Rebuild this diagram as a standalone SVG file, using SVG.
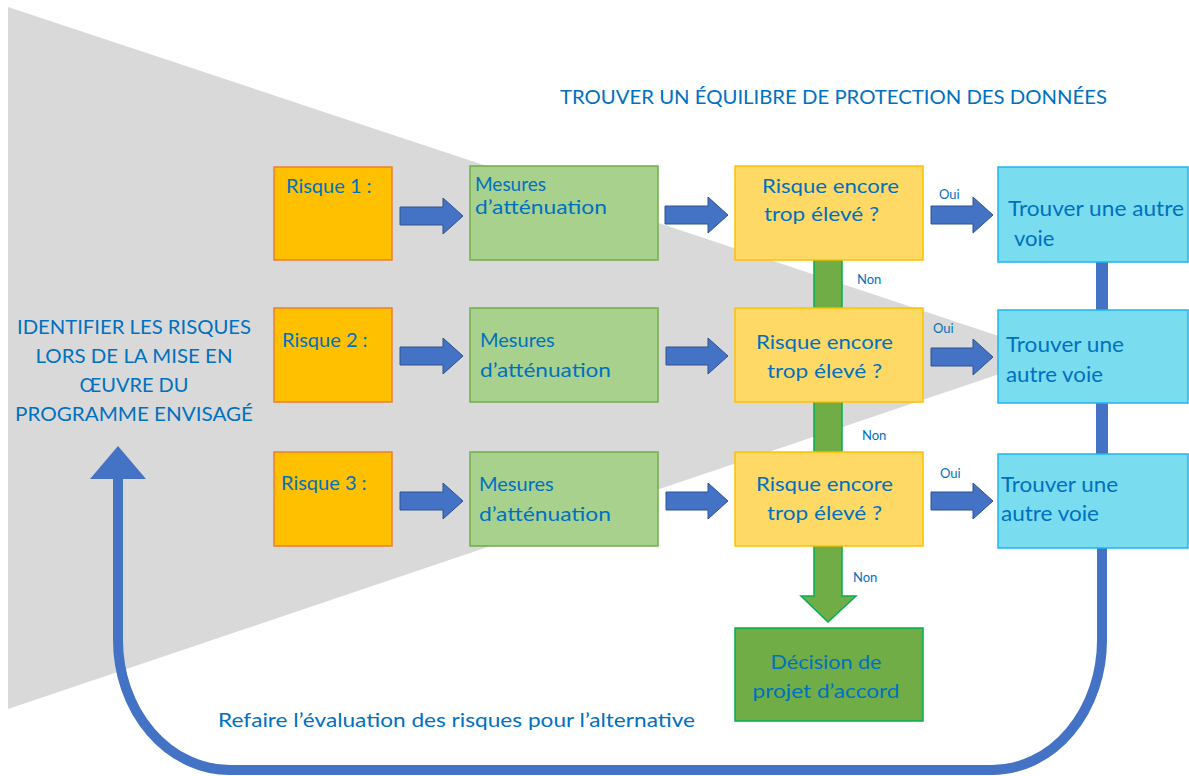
<svg xmlns="http://www.w3.org/2000/svg" width="1189" height="776" viewBox="0 0 1189 776">
<style>
  text { font-family: Lato, "Open Sans", "Liberation Sans", sans-serif; fill: #0070C0; }
  .t20 { font-size: 20px; }
  .t19 { font-size: 19px; }
  .t22 { font-size: 22px; }
  .sm { font-size: 13px; }
  .risk { fill: #FFC000; stroke: #ED7D31; stroke-width: 1.5; }
  .mes { fill: #A9D18E; stroke: #70AD47; stroke-width: 1.5; }
  .dec { fill: #FFD966; stroke: #FFC000; stroke-width: 1.5; }
  .alt { fill: #79DCEF; stroke: #1FB4F0; stroke-width: 1.5; }
  .ok { fill: #70AD47; stroke: #00B050; stroke-width: 1.5; }
  .barrow { fill: #4472C4; stroke: #2F528F; stroke-width: 1; }
  .gbar { fill: #70AD47; stroke: #00B050; stroke-width: 1.5; }
  .bbar { fill: #4472C4; }
  .mid { text-anchor: middle; }
</style>
<rect width="1189" height="776" fill="#FFFFFF"/>
<polygon points="8,7 1056,355 8,709" fill="#D9D9D9"/>

<g id="connectors">
  <path class="barrow" d="M400,207 H443 V198 L463,216 L443,234 V225 H400 Z"/>
  <path class="barrow" d="M665,206 H708 V197 L728,215 L708,233 V224 H665 Z"/>
  <path class="barrow" d="M931,206 H973 V197 L993,215 L973,233 V224 H931 Z"/>
  <path class="barrow" d="M400,347 H443 V338 L463,356 L443,374 V365 H400 Z"/>
  <path class="barrow" d="M666,347 H708 V338 L728,356 L708,374 V365 H666 Z"/>
  <path class="barrow" d="M931,348 H973 V339 L993,357 L973,375 V366 H931 Z"/>
  <path class="barrow" d="M400,492 H443 V483 L463,501 L443,519 V510 H400 Z"/>
  <path class="barrow" d="M666,492 H708 V483 L728,501 L708,519 V510 H666 Z"/>
  <path class="barrow" d="M931,492 H973 V483 L993,501 L973,519 V510 H931 Z"/>
  <rect class="gbar" x="814" y="260" width="28" height="48"/>
  <rect class="gbar" x="814" y="402" width="28" height="50"/>
  <path class="gbar" d="M814,546 H842 V596 H856 L828,622 L801,596 H814 Z"/>
  <rect class="bbar" x="1096" y="262" width="12" height="48"/>
  <rect class="bbar" x="1096" y="403" width="12" height="51"/>
  <path d="M1102,548 V640 A110,130 0 0 1 992,770 H230 A112,130 0 0 1 118,640 V476" fill="none" stroke="#4472C4" stroke-width="10"/>
  <polygon points="90,479 146,479 118,446" fill="#4472C4"/>
  <text class="sm" x="939" y="199">Oui</text>
  <text class="sm" x="933" y="333">Oui</text>
  <text class="sm" x="940" y="478">Oui</text>
  <text class="sm" x="857" y="284">Non</text>
  <text class="sm" x="862" y="440">Non</text>
  <text class="sm" x="853" y="582">Non</text>
  <text class="t20" x="218" y="727" textLength="477" lengthAdjust="spacingAndGlyphs">Refaire l’évaluation des risques pour l’alternative</text>
</g>

<g id="title">
  <text class="t20" x="560" y="104" textLength="547" lengthAdjust="spacingAndGlyphs">TROUVER UN ÉQUILIBRE DE PROTECTION DES DONNÉES</text>
</g>

<g id="identify">
  <text class="t20 mid" x="134" y="334" textLength="234" lengthAdjust="spacingAndGlyphs">IDENTIFIER LES RISQUES</text>
  <text class="t20 mid" x="134" y="363" textLength="197" lengthAdjust="spacingAndGlyphs">LORS DE LA MISE EN</text>
  <text class="t20 mid" x="134" y="392" textLength="109" lengthAdjust="spacingAndGlyphs">ŒUVRE DU</text>
  <text class="t20 mid" x="134" y="421" textLength="238" lengthAdjust="spacingAndGlyphs">PROGRAMME ENVISAGÉ</text>
</g>

<g id="risque1">
  <rect class="risk" x="274" y="167" width="118" height="93"/>
  <text class="t20" x="286" y="193">Risque 1 :</text>
</g>
<g id="risque2">
  <rect class="risk" x="274" y="308" width="118" height="94"/>
  <text class="t20" x="282" y="347">Risque 2 :</text>
</g>
<g id="risque3">
  <rect class="risk" x="274" y="452" width="118" height="94"/>
  <text class="t20" x="281" y="490">Risque 3 :</text>
</g>

<g id="mesures1">
  <rect class="mes" x="470" y="166" width="188" height="94"/>
  <text class="t19" x="475" y="191">Mesures</text>
  <text class="t19" x="475" y="214" textLength="132" lengthAdjust="spacingAndGlyphs">d’atténuation</text>
</g>
<g id="mesures2">
  <rect class="mes" x="470" y="308" width="188" height="94"/>
  <text class="t20" x="480" y="347">Mesures</text>
  <text class="t20" x="480" y="377" textLength="131" lengthAdjust="spacingAndGlyphs">d’atténuation</text>
</g>
<g id="mesures3">
  <rect class="mes" x="470" y="452" width="188" height="94"/>
  <text class="t20" x="479" y="491">Mesures</text>
  <text class="t20" x="479" y="521" textLength="132" lengthAdjust="spacingAndGlyphs">d’atténuation</text>
</g>

<g id="decision1">
  <rect class="dec" x="735" y="166" width="188" height="94"/>
  <text class="t20" x="762" y="193" textLength="137" lengthAdjust="spacingAndGlyphs">Risque encore</text>
  <text class="t20" x="764" y="221" textLength="115" lengthAdjust="spacingAndGlyphs">trop élevé ?</text>
</g>
<g id="decision2">
  <rect class="dec" x="735" y="308" width="188" height="94"/>
  <text class="t20" x="756" y="349" textLength="137" lengthAdjust="spacingAndGlyphs">Risque encore</text>
  <text class="t20" x="767" y="378" textLength="115" lengthAdjust="spacingAndGlyphs">trop élevé ?</text>
</g>
<g id="decision3">
  <rect class="dec" x="735" y="452" width="188" height="94"/>
  <text class="t20" x="756" y="491" textLength="137" lengthAdjust="spacingAndGlyphs">Risque encore</text>
  <text class="t20" x="767" y="520" textLength="115" lengthAdjust="spacingAndGlyphs">trop élevé ?</text>
</g>

<g id="alternative1">
  <rect class="alt" x="998" y="167" width="190" height="95"/>
  <text class="t22" x="1008" y="216" textLength="176" lengthAdjust="spacingAndGlyphs">Trouver une autre</text>
  <text class="t22" x="1014" y="246">voie</text>
</g>
<g id="alternative2">
  <rect class="alt" x="998" y="310" width="190" height="93"/>
  <text class="t22" x="1006" y="352" textLength="118" lengthAdjust="spacingAndGlyphs">Trouver une</text>
  <text class="t22" x="1006" y="382" textLength="97" lengthAdjust="spacingAndGlyphs">autre voie</text>
</g>
<g id="alternative3">
  <rect class="alt" x="998" y="454" width="190" height="94"/>
  <text class="t22" x="1001" y="492" textLength="117" lengthAdjust="spacingAndGlyphs">Trouver une</text>
  <text class="t22" x="1001" y="521" textLength="98" lengthAdjust="spacingAndGlyphs">autre voie</text>
</g>

<g id="accord">
  <rect class="ok" x="735" y="628" width="188" height="93"/>
  <text class="t20 mid" x="826" y="669" textLength="111" lengthAdjust="spacingAndGlyphs">Décision de</text>
  <text class="t20 mid" x="826" y="698" textLength="147" lengthAdjust="spacingAndGlyphs">projet d’accord</text>
</g>
</svg>
